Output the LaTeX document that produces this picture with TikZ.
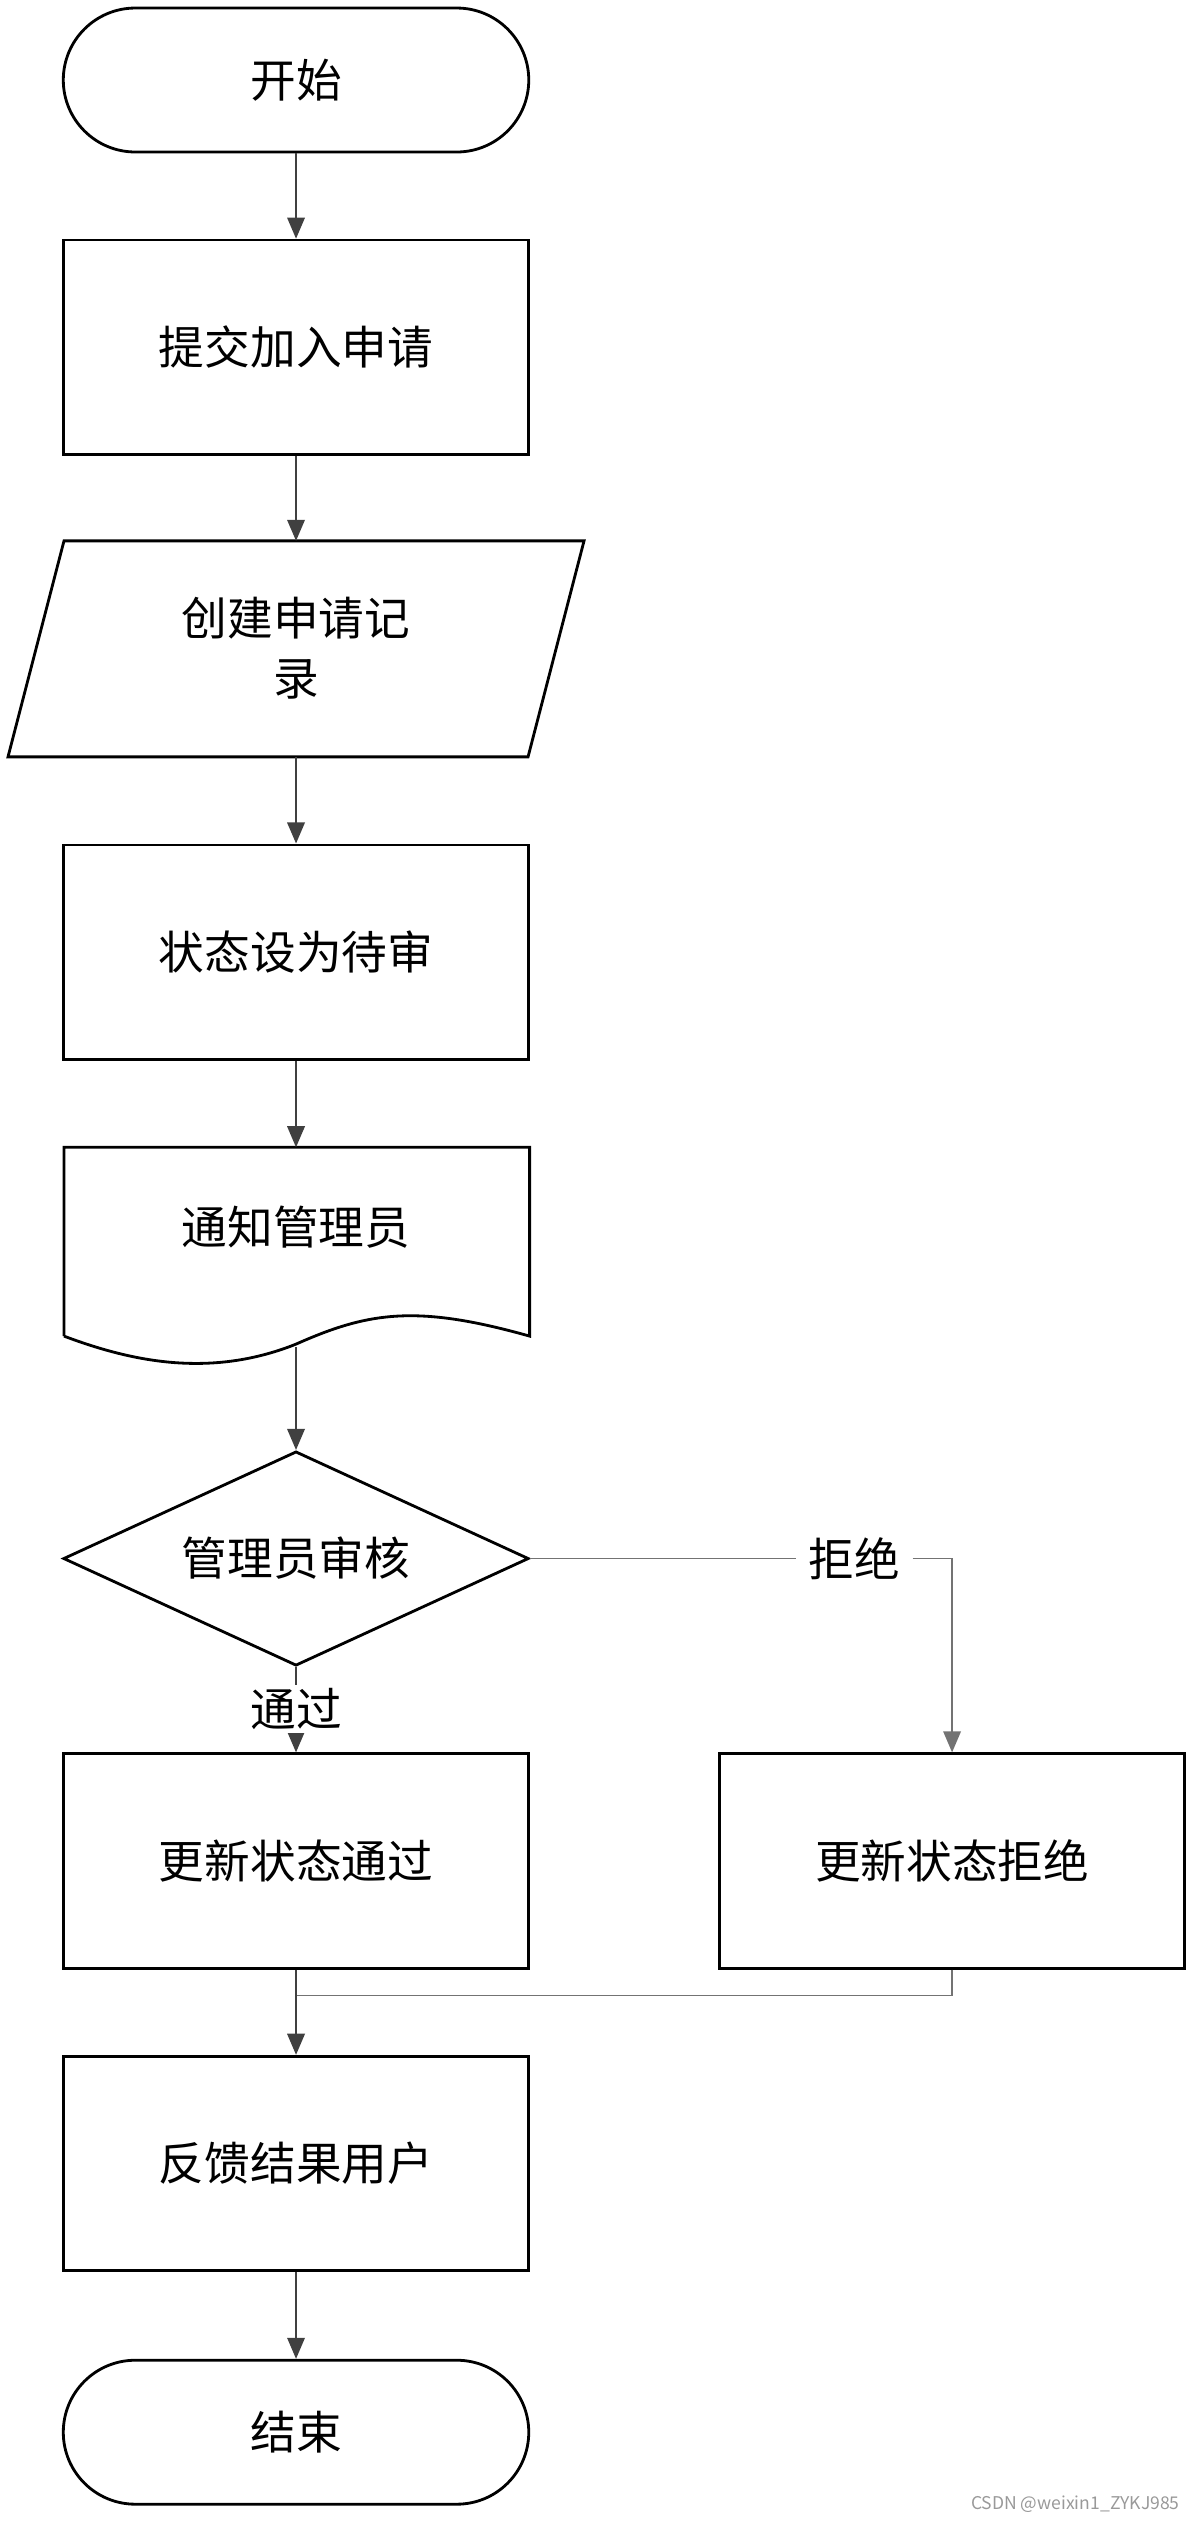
\documentclass[tikz,border=0pt]{standalone}
\usepackage{fontspec}
\setmainfont{Noto Sans CJK SC}
\usetikzlibrary{arrows.meta,shapes.geometric}

\begin{document}
\begin{tikzpicture}[x=0.016cm, y=-0.016cm, >={Triangle[length=6pt,width=5pt]},
  font=\fontsize{13pt}{17pt}\selectfont]

\tikzset{
  box/.style={draw, line width=0.8pt, minimum width=4.656cm, minimum height=2.144cm, align=center},
  term/.style={draw, line width=0.8pt, rounded corners=0.72cm, minimum width=4.656cm, minimum height=1.44cm},
  dec/.style={draw, line width=0.8pt, diamond, aspect=2.17, minimum width=4.656cm, minimum height=2.144cm, inner sep=0pt},
  arr/.style={->, draw=black!75, line width=0.5pt},
  ln/.style={draw=black!55, line width=0.5pt}
}

\useasboundingbox (0,0) rectangle (750,1578);

% --- Nós ---
\node[term] (start) at (185,50) {开始};
\node[box] (submit) at (185,217) {提交加入申请};

% paralelogramo
\draw[line width=0.8pt] (5,473) -- (40,338) -- (365,338) -- (330,473) -- cycle;
\node[align=center] (record) at (185,405) {创建申请记\\录};
\coordinate (recN) at (185,338);
\coordinate (recS) at (185,473);

\node[box] (pending) at (185,595) {状态设为待审};

% documento
\draw[line width=0.8pt] (40,835) -- (40,717) -- (331,717) -- (331,835)
  .. controls (260,815) and (230,820) .. (185,840)
  .. controls (130,862) and (80,850) .. (40,835);
\node (notify) at (185,767) {通知管理员};
\coordinate (notN) at (185,717);
\coordinate (notS) at (185,842);

\node[dec] (review) at (185,974) {管理员审核};
\node[box] (pass) at (185,1163) {更新状态通过};
\node[box] (reject) at (595,1163) {更新状态拒绝};
\node[box] (feedback) at (185,1352) {反馈结果用户};
\node[term] (end) at (185,1520) {结束};

% rótulos
\node (lblNo) at (534,974) {拒绝};
\node[fill=white, inner sep=1pt] (lblYes) at (185,1068) {通过};
\coordinate (join) at (185,1247);

\node[text=black!40, font=\fontsize{5pt}{6pt}\selectfont, anchor=east] (mark) at (745,1565) {CSDN @weixin1\_ZYKJ985};

% --- Setas ---
\draw[arr] (start) -- (submit);
\draw[arr] (submit) -- (recN);
\draw[arr] (recS) -- (pending);
\draw[arr] (pending) -- (notN);
\draw[arr] (notS) -- (review);
\draw[ln] (review.east) -- (lblNo.west);
\draw[arr, draw=black!55] (lblNo.east) -| (reject.north);
\draw[arr] (review.south) -- (pass.north);
\node[fill=white, inner sep=1pt] at (lblYes) {通过};
\draw[ln] (reject.south) |- (join);
\draw[arr] (pass.south) -- (feedback.north);
\draw[arr] (feedback) -- (end);

\end{tikzpicture}
\end{document}
